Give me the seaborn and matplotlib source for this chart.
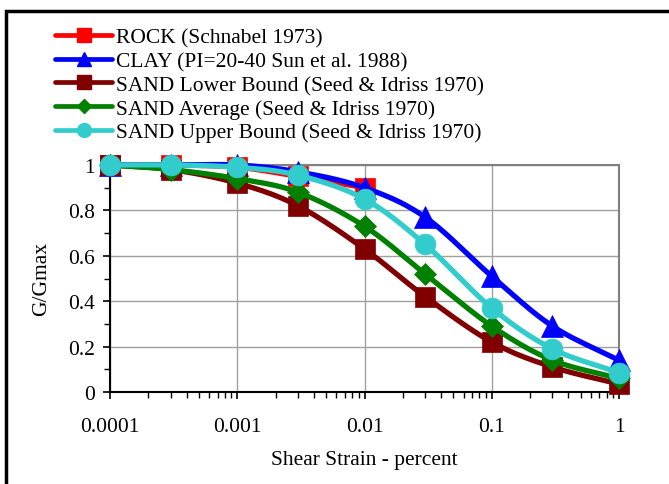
import numpy as np
import pandas as pd
import matplotlib
matplotlib.use("Agg")
import matplotlib.pyplot as plt
import seaborn as sns
from matplotlib.lines import Line2D
from matplotlib.patches import Rectangle
from matplotlib.ticker import LogLocator, NullFormatter, FixedLocator

# ---- data ----
strain = [0.0001, 0.0003, 0.001, 0.003, 0.01, 0.03, 0.1, 0.3, 1.0]
rock = [1.00, 1.00, 0.99, 0.95, 0.90]
clay = [1.00, 1.00, 1.00, 0.97, 0.90, 0.77, 0.51, 0.29, 0.14]
sand_lower = [1.00, 0.98, 0.92, 0.82, 0.63, 0.42, 0.22, 0.11, 0.035]
sand_avg = [1.00, 0.98, 0.94, 0.88, 0.73, 0.52, 0.29, 0.14, 0.06]
sand_upper = [1.00, 1.00, 0.99, 0.955, 0.85, 0.65, 0.37, 0.19, 0.085]

labels = ["ROCK (Schnabel 1973)",
          "CLAY (PI=20-40 Sun et al. 1988)",
          "SAND Lower Bound (Seed & Idriss 1970)",
          "SAND Average (Seed & Idriss 1970)",
          "SAND Upper Bound (Seed & Idriss 1970)"]
series = [rock, clay, sand_lower, sand_avg, sand_upper]
colors = ["#FF0000", "#0000FF", "#800000", "#008000", "#33CCCC"]
markers = ["s", "^", "s", "D", "o"]
msizes = [14.5, 15.5, 14.5, 11.5, 15]
legend_ms = [9.5, 10, 9.5, 7.5, 10]

x_tick_vals = [0.0001, 0.001, 0.01, 0.1, 1]
x_tick_labels = ["0.0001", "0.001", "0.01", "0.1", "1"]
y_tick_vals = [0, 0.2, 0.4, 0.6, 0.8, 1.0]
y_tick_labels = ["0", "0.2", "0.4", "0.6", "0.8", "1"]

sns.set_theme(style="white")
plt.rcParams["font.family"] = ["Liberation Serif", "DejaVu Serif"]
plt.rcParams["text.color"] = "black"
plt.rcParams["axes.labelcolor"] = "black"
plt.rcParams["xtick.color"] = "black"
plt.rcParams["ytick.color"] = "black"
FS = 15.5


def smooth(xs, ys, n=20):
    """Catmull-Rom smoothing in log-x space (rendering only)."""
    lx = np.log10(np.asarray(xs, float))
    y = np.asarray(ys, float)
    P = np.column_stack([lx, y])
    P = np.vstack([P[0] - (P[1] - P[0]), P, P[-1] + (P[-1] - P[-2])])
    out = []
    for i in range(1, len(P) - 2):
        p0, p1, p2, p3 = P[i - 1], P[i], P[i + 1], P[i + 2]
        t = np.linspace(0, 1, n, endpoint=False)[:, None]
        c = 0.5 * ((2 * p1) + (-p0 + p2) * t + (2 * p0 - 5 * p1 + 4 * p2 - p3) * t ** 2
                   + (-p0 + 3 * p1 - 3 * p2 + p3) * t ** 3)
        out.append(c)
    out.append(P[-2][None, :])
    out = np.vstack(out)
    return 10 ** out[:, 0], out[:, 1]


fig = plt.figure(figsize=(6.69, 4.85), dpi=100)
ax = fig.add_axes([110 / 669, 1 - 393 / 485, 509 / 669, 227 / 485])

for i, (vals, col, mk, ms) in enumerate(zip(series, colors, markers, msizes)):
    xs = strain[:len(vals)]
    sx, sy = smooth(xs, vals)
    df_line = pd.DataFrame({"x": sx, "y": sy})
    sns.lineplot(data=df_line, x="x", y="y", ax=ax, color=col, lw=3.8,
                 sort=False, estimator=None, zorder=2 + i, clip_on=False)
    df_pts = pd.DataFrame({"x": xs, "y": vals})
    ax.plot(df_pts["x"], df_pts["y"], ls="none", marker=mk, ms=ms, color=col,
            mec=col, mew=0.5, zorder=2 + i, clip_on=False)

ax.set_xscale("log")
ax.set_xlim(1e-4, 1)
ax.set_ylim(0, 1)
ax.xaxis.set_major_locator(FixedLocator(x_tick_vals))
ax.set_xticklabels(x_tick_labels)
ax.xaxis.set_minor_locator(LogLocator(base=10, subs=np.arange(2, 10)))
ax.xaxis.set_minor_formatter(NullFormatter())
ax.yaxis.set_major_locator(FixedLocator(y_tick_vals))
ax.set_yticklabels(y_tick_labels)
ax.yaxis.set_minor_locator(FixedLocator([0.1, 0.3, 0.5, 0.7, 0.9]))

ax.grid(True, which="major", color="#A0A0A0", lw=1.0)
ax.set_axisbelow(True)
for s in ["top", "right"]:
    ax.spines[s].set_color("#808080")
    ax.spines[s].set_linewidth(1.5)
for s in ["left", "bottom"]:
    ax.spines[s].set_color("black")
    ax.spines[s].set_linewidth(1.5)
ax.tick_params(axis="both", which="major", direction="out", length=5, width=1.2,
               color="black", labelcolor="black", labelsize=FS, bottom=True, left=True)
ax.tick_params(axis="both", which="minor", direction="out", length=4, width=1.0,
               color="black", bottom=True, left=True)
ax.tick_params(axis="x", which="major", pad=13)
ax.tick_params(axis="y", which="major", pad=6)
ax.set_xlabel("Shear Strain - percent", fontsize=FS, labelpad=10, color="black")
ax.set_ylabel("G/Gmax", fontsize=FS, labelpad=12, color="black")

handles = [Line2D([0], [0], color=c, lw=3.4, marker=m, ms=lm, mec=c)
           for c, m, lm in zip(colors, markers, legend_ms)]
leg = fig.legend(handles, labels, loc="upper left", bbox_to_anchor=(55 / 669, 1 - 28.5 / 485),
                 frameon=False, fontsize=FS, handlelength=2.65, handletextpad=0.2,
                 labelspacing=0.17, borderaxespad=0, borderpad=0, labelcolor="black")

fig.patches.append(Rectangle((6 / 669, -0.1), 1.2, 1 - 11.5 / 485 + 0.1,
                             transform=fig.transFigure, fill=False,
                             edgecolor="black", lw=2.5, zorder=10))

fig.savefig("out.png", dpi=100)
